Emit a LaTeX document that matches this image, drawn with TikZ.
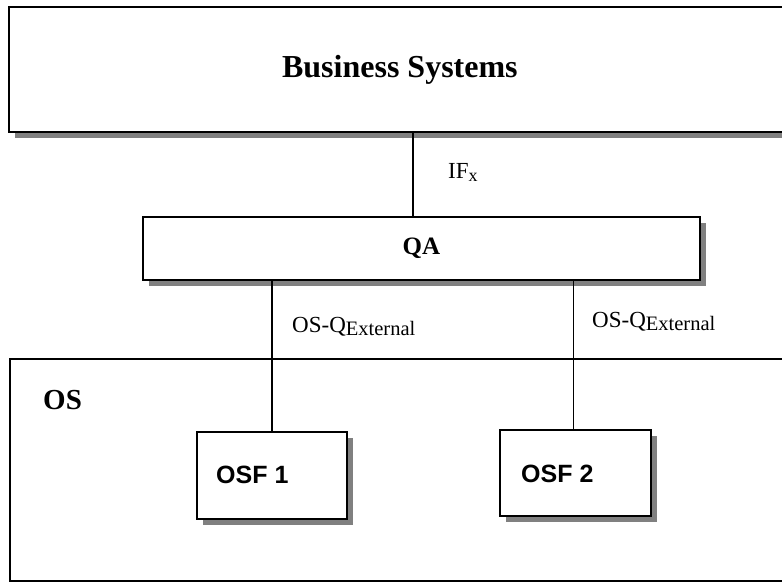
\documentclass[tikz,border=0pt]{standalone}
\usepackage{fontspec}
\setmainfont{Liberation Serif}
\newfontfamily\arialfont{Liberation Sans}
\usetikzlibrary{shadows}
\begin{document}
\begin{tikzpicture}[x=1pt,y=-1pt,
  box/.style={draw=black, line width=1.8pt, fill=white, inner sep=0pt, anchor=north west},
  shbox/.style={box, general shadow={fill=black!50, shadow xshift=6pt, shadow yshift=-6pt}},
  conn/.style={draw=black, line width=1.4pt},
  bigtitle/.style={font=\fontsize{32}{36}\selectfont\bfseries},
  midtitle/.style={font=\fontsize{25}{28}\selectfont\bfseries},
  lbl/.style={font=\fontsize{23}{26}\selectfont, anchor=base west, inner sep=0pt},
  osftext/.style={font=\arialfont\fontsize{25}{28}\selectfont\bfseries, anchor=base west, inner sep=0pt}
]
\useasboundingbox (0,0) rectangle (782,584);
\fill[white] (0,0) rectangle (782,584);
% boxes
\node[shbox, minimum width=782pt, minimum height=125pt, bigtitle] (bs) at (8,6) {Business Systems};
\node[shbox, minimum width=557pt, minimum height=63pt, midtitle] (qa) at (142,216) {QA};
\node[box, minimum width=790pt, minimum height=222pt] (os) at (9,358) {};
\node[shbox, minimum width=150pt, minimum height=87pt] (osf1) at (196,431) {};
\node[shbox, minimum width=151pt, minimum height=86pt] (osf2) at (499,429) {};
% texts
\node[font=\fontsize{29}{32}\selectfont\bfseries, anchor=base west, inner sep=0pt] (ostxt) at (43,409) {OS};
\node[osftext] (osf1txt) at (216,483) {OSF 1};
\node[osftext] (osf2txt) at (521,482) {OSF 2};
% connectors
\draw[conn] ([xshift=-8.5pt]qa.north) -- ([xshift=-8.5pt]qa.north |- bs.south);
\draw[conn] (osf1.north) -- (osf1.north |- qa.south);
\draw[conn] ([xshift=-2pt]osf2.north) -- ([xshift=-2pt]osf2.north |- qa.south);
% labels
\node[lbl] (ifx) at (448,178) {IF\raisebox{-3pt}{\fontsize{18}{18}\selectfont x}};
\node[lbl] (q1) at (292,332) {OS-Q\raisebox{-3pt}{\fontsize{20.5}{21}\selectfont External}};
\node[lbl] (q2) at (592,327) {OS-Q\raisebox{-3pt}{\fontsize{20.5}{21}\selectfont External}};
\end{tikzpicture}
\end{document}
